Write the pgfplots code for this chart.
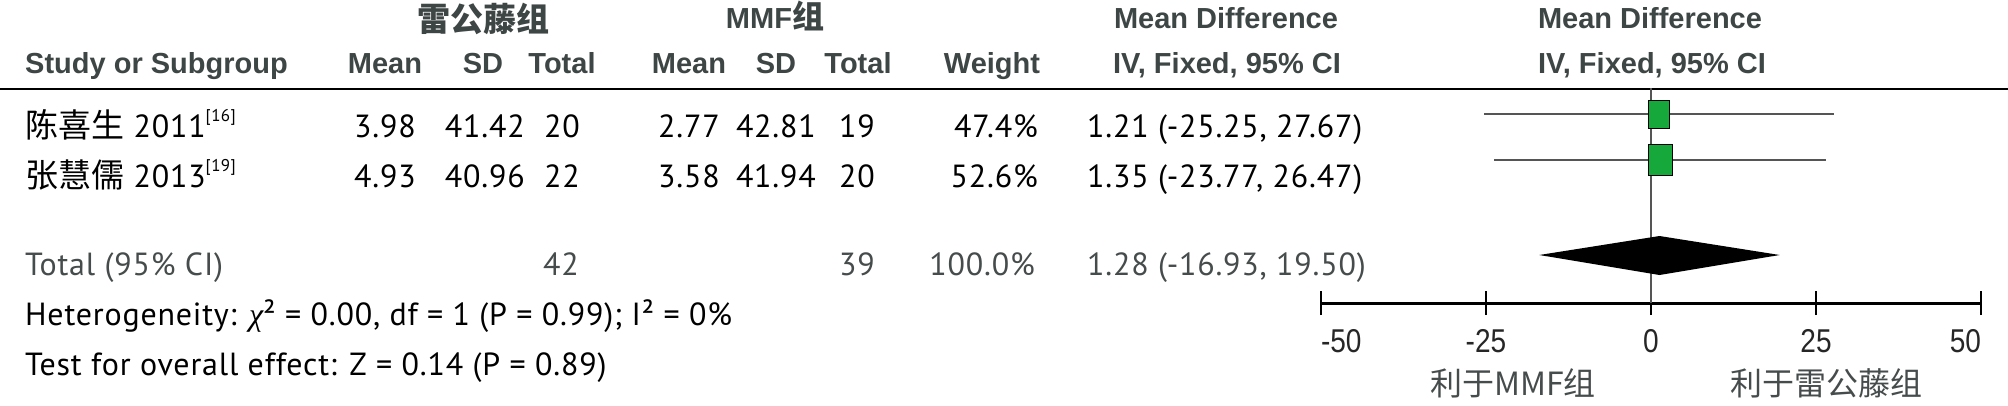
\documentclass[border=0pt]{standalone}
\usepackage{pgfplots}
\pgfplotsset{compat=1.18}
\usepackage{fontspec}
\setmainfont{PT Sans}[LetterSpace=2.5]
\newfontfamily\hdrfont{Liberation Sans}
\newfontfamily\tickfont{Liberation Sans}[FakeStretch=0.85]
\newfontfamily\cjk{Noto Sans CJK SC}
\newfontfamily\grk{Liberation Serif}
\definecolor{hdr}{RGB}{62,69,69}
\definecolor{tot}{RGB}{70,76,76}
\definecolor{sqgreen}{RGB}{22,168,58}
\definecolor{ciline}{RGB}{85,85,85}
\newcommand\fs[1]{\fontsize{#1}{#1}\selectfont}
\newcommand\sref[1]{\raisebox{0.5em}{\fs{17}[#1]}}

\begin{document}
\begin{tikzpicture}
\begin{scope}[x=1pt,y=-1pt]
\useasboundingbox (0,0) rectangle (2008,405);
% ---------- header ----------
\begin{scope}[every node/.style={inner sep=0pt, text=hdr, font={\hdrfont\bfseries\fs{29}}}]
\node[anchor=base] at (483,31) {{\cjk\bfseries\fs{33}雷公藤组}};
\node[anchor=base] at (775,28) {MMF{\cjk\bfseries\fs{32}组}};
\node[anchor=base] at (1226,28) {Mean Difference};
\node[anchor=base] at (1650,28) {Mean Difference};
\node[anchor=base west] at (25,73) {Study or Subgroup};
\node[anchor=base] at (385,73) {Mean};
\node[anchor=base] at (483,73) {SD};
\node[anchor=base] at (562,73) {Total};
\node[anchor=base] at (689,73) {Mean};
\node[anchor=base] at (776,73) {SD};
\node[anchor=base] at (858,73) {Total};
\node[anchor=base] at (992,73) {Weight};
\node[anchor=base] at (1227,73) {IV, Fixed, 95\% CI};
\node[anchor=base] at (1652,73) {IV, Fixed, 95\% CI};
\end{scope}
\draw[black, line width=2.5pt] (0,89) -- (2008,89);
% ---------- rows ----------
\begin{scope}[every node/.style={inner sep=0pt, text=black, font={\fs{32}}}]
\node[anchor=base west] at (25,137) {{\cjk\fs{33}陈喜生} 2011\sref{16}};
\node[anchor=base east] at (416,137) {3.98};
\node[anchor=base east] at (525,137) {41.42};
\node[anchor=base east] at (580,137) {20};
\node[anchor=base east] at (720,137) {2.77};
\node[anchor=base east] at (816,137) {42.81};
\node[anchor=base east] at (875,137) {19};
\node[anchor=base east] at (1038,137) {47.4\%};
\node[anchor=base west] at (1087,137) {1.21 (-25.25, 27.67)};
\node[anchor=base west] at (25,187) {{\cjk\fs{33}张慧儒} 2013\sref{19}};
\node[anchor=base east] at (416,187) {4.93};
\node[anchor=base east] at (525,187) {40.96};
\node[anchor=base east] at (580,187) {22};
\node[anchor=base east] at (720,187) {3.58};
\node[anchor=base east] at (816,187) {41.94};
\node[anchor=base east] at (875,187) {20};
\node[anchor=base east] at (1038,187) {52.6\%};
\node[anchor=base west] at (1087,187) {1.35 (-23.77, 26.47)};
\end{scope}
\begin{scope}[every node/.style={inner sep=0pt, text=tot, font={\fs{32}}}]
\node[anchor=base west] at (25,275) {Total (95\% CI)};
\node[anchor=base east] at (579,275) {42};
\node[anchor=base east] at (875,275) {39};
\node[anchor=base east] at (1035,275) {100.0\%};
\node[anchor=base west] at (1087,275) {1.28 (-16.93, 19.50)};
\end{scope}
\begin{scope}[every node/.style={inner sep=0pt, text=black, font={\fs{32}}}]
\node[anchor=base west] at (25,325) {Heterogeneity: {\grk\itshape χ}² = 0.00, df = 1 (P = 0.99); I² = 0\%};
\node[anchor=base west] at (25,375) {Test for overall effect: Z = 0.14 (P = 0.89)};
\end{scope}
\begin{scope}[every node/.style={inner sep=0pt, text=tot, font={\cjk\fs{32}}}]
\node[anchor=base] at (1513,395) {利于MMF组};
\node[anchor=base] at (1826,395) {利于雷公藤组};
\end{scope}
\end{scope}
% ---------- forest plot ----------
\begin{axis}[
  at={(1321pt,-303pt)}, anchor=south west,
  width=660pt, height=215pt, scale only axis,
  xmin=-50, xmax=50, ymin=0, ymax=215,
  axis y line=none, axis x line*=bottom,
  axis line style={-, line width=3pt, black},
  xtick={-50,-25,0,25,50}, ytick=\empty,
  xticklabels={\makebox[0pt][l]{-50},-25,0,25,\makebox[0pt][r]{50}},
  tick align=center, major tick length=24pt,
  every tick/.style={black, line width=2.5pt},
  xticklabel style={font={\tickfont\fs{33}}, text=black!85, inner sep=0pt, yshift=-14pt},
  clip=false,
]
\addplot[ciline, line width=2.2pt] coordinates {(0,0) (0,215)};
\addplot[ciline, line width=2.2pt] coordinates {(-25.25,189) (27.67,189)};
\addplot[ciline, line width=2.2pt] coordinates {(-23.77,143) (26.47,143)};
\addplot[only marks, mark=square*, mark size=14pt, mark options={xscale=0.75, fill=sqgreen, draw=none}] coordinates {(1.21,189)};
\addplot[only marks, mark=square*, mark size=15.5pt, mark options={xscale=0.77, fill=sqgreen, draw=none}] coordinates {(1.35,143)};
\addplot[fill=black, draw=none] coordinates {(-16.93,48) (1.28,67) (19.50,48) (1.28,28)} -- cycle;
\end{axis}
\end{tikzpicture}
\end{document}
